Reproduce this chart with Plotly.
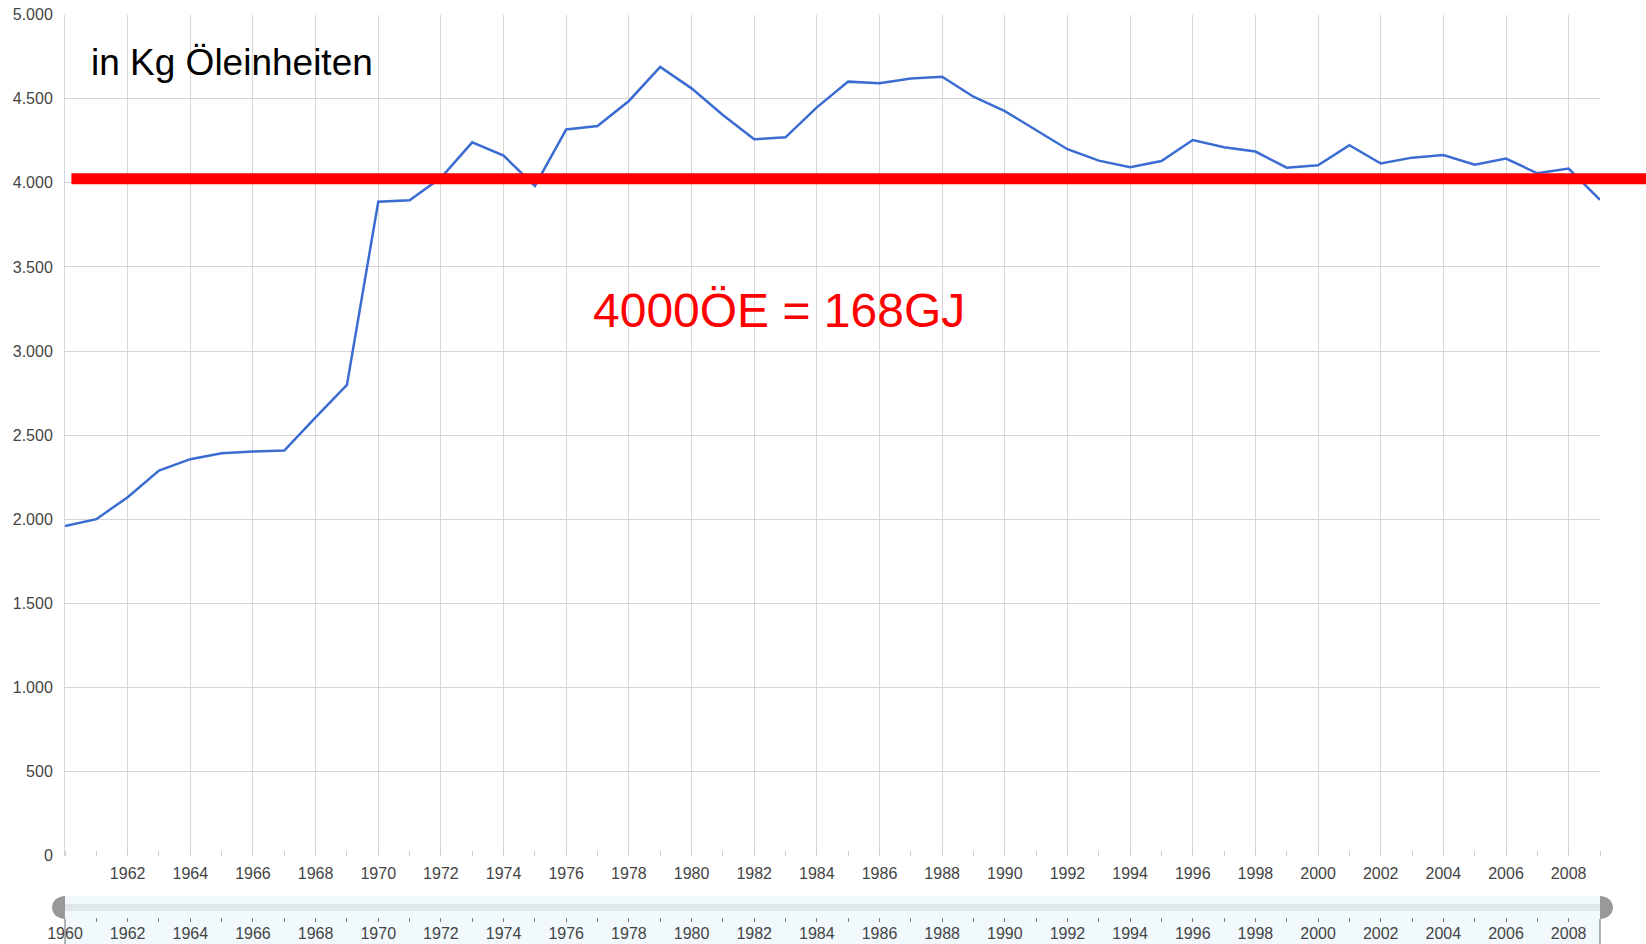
import plotly.graph_objects as go

# ---- data ----
years = list(range(1960, 2010))
energy_kg_oe = [
    1960, 2000, 2131, 2289, 2357, 2392, 2402, 2408, 2606, 2798,
    3888, 3896, 4030, 4241, 4162, 3982, 4318, 4338, 4487, 4689,
    4562, 4404, 4259, 4271, 4449, 4602, 4592, 4620, 4631, 4512,
    4427, 4315, 4200, 4132, 4093, 4130, 4255, 4212, 4186, 4090,
    4105, 4224, 4115, 4150, 4166, 4108, 4144, 4057, 4085, 3899,
]
ref_level = 4025
x_tick_years = list(range(1962, 2009, 2))
slider_tick_years = list(range(1960, 2009, 2))
y_ticks = list(range(0, 5001, 500))

title_text = "in Kg Öleinheiten"
ref_text = "4000ÖE = 168GJ"

# ---- geometry helpers (pixels -> paper) ----
W, H = 1646, 944
L, R = 65, 1600


def px(x):
    return (x - L) / (R - L)


def py(y):
    return (H - y) / H


FONT = "Liberation Sans, Arial, sans-serif"
GRID = "#d6d6d6"

fig = go.Figure()
fig.add_trace(go.Scatter(
    x=years, y=energy_kg_oe, mode="lines",
    line=dict(color="#3b6cd2", width=2.5),
    xaxis="x", yaxis="y", showlegend=False,
))
fig.add_trace(go.Scatter(
    x=[years[0], years[-1]], y=[0.5, 0.5], mode="markers",
    marker=dict(opacity=0), xaxis="x2", yaxis="y2",
    showlegend=False, hoverinfo="skip",
))

shapes = []
# range-filter band
shapes.append(dict(type="rect", xref="paper", yref="paper", x0=0, x1=1,
                   y0=py(944), y1=py(896), fillcolor="#f1f9fd",
                   line=dict(width=0), layer="below"))
shapes.append(dict(type="rect", xref="paper", yref="paper", x0=0, x1=1,
                   y0=py(911), y1=py(904), fillcolor="#dfe7eb",
                   line=dict(width=0), layer="below"))
for xe in (0, 1):
    shapes.append(dict(type="line", xref="paper", yref="paper", x0=xe, x1=xe,
                       y0=py(919), y1=py(944), line=dict(color="#666666", width=1)))


def handle(xc, direction):
    r, yt, yb = 13, 896, 919
    ym = (yt + yb) / 2
    ry = (yb - yt) / 2
    k = 0.5523
    xe = xc + direction * r
    pts = [
        (xc, yt),
        (xc + direction * k * r, yt), (xe, ym - k * ry), (xe, ym),
        (xe, ym + k * ry), (xc + direction * k * r, yb), (xc, yb),
    ]
    p = [(px(a), py(b)) for a, b in pts]
    path = "M {},{} C {},{} {},{} {},{} C {},{} {},{} {},{} Z".format(
        p[0][0], p[0][1], p[1][0], p[1][1], p[2][0], p[2][1], p[3][0], p[3][1],
        p[4][0], p[4][1], p[5][0], p[5][1], p[6][0], p[6][1])
    return dict(type="path", xref="paper", yref="paper", path=path,
                fillcolor="#999999", line=dict(width=0))


shapes.append(handle(L, -1))
shapes.append(handle(R, 1))

# red reference line
shapes.append(dict(type="line", xref="paper", yref="y", x0=px(71.4), x1=px(1660),
                   y0=ref_level, y1=ref_level, line=dict(color="#ff0000", width=11)))

annotations = [
    dict(text=title_text, xref="paper", yref="paper", x=px(88.5), y=py(62.4),
         xanchor="left", yanchor="middle", showarrow=False,
         font=dict(family=FONT, size=37, color="#000000")),
    dict(text=ref_text, xref="paper", yref="paper", x=px(591), y=py(310),
         xanchor="left", yanchor="middle", showarrow=False,
         font=dict(family=FONT, size=48, color="#ff0000")),
]

fig.update_layout(
    width=W, height=H,
    margin=dict(l=L, r=W - R, t=0, b=0, autoexpand=False),
    paper_bgcolor="white", plot_bgcolor="white",
    font=dict(family=FONT, size=16, color="#444444"),
    separators=",.",
    showlegend=False,
    shapes=shapes,
    annotations=annotations,
    xaxis=dict(
        domain=[0, 1], range=[1960, 2009], anchor="y", automargin=False,
        tickmode="array", tickvals=x_tick_years,
        ticktext=[str(v) for v in x_tick_years],
        showgrid=True, gridcolor=GRID, gridwidth=1,
        ticks="", showline=False, zeroline=False,
        ticklabelstandoff=6,
        minor=dict(tickmode="linear", tick0=1960, dtick=1, ticks="inside",
                   ticklen=5, tickcolor="#cccccc", showgrid=False),
    ),
    yaxis=dict(
        domain=[py(855.5), py(14.7)], range=[0, 5000], anchor="x", automargin=False,
        tickmode="array", tickvals=y_ticks,
        tickformat=",d", separatethousands=True,
        showgrid=True, gridcolor=GRID, gridwidth=1,
        showline=True, linecolor=GRID, linewidth=1,
        zeroline=False, ticks="", ticklabelstandoff=8,
    ),
    xaxis2=dict(
        domain=[0, 1], range=[1960, 2009], anchor="y2", automargin=False,
        tickmode="array", tickvals=slider_tick_years,
        ticktext=[str(v) for v in slider_tick_years],
        ticks="inside", ticklen=4, tickcolor="#777777",
        showgrid=False, showline=False, zeroline=False,
        ticklabelstandoff=0,
        minor=dict(tickmode="linear", tick0=1960, dtick=1, ticks="inside",
                   ticklen=4, tickcolor="#777777", showgrid=False),
    ),
    yaxis2=dict(domain=[py(922), py(896)], range=[0, 1], anchor="x2",
                visible=False, fixedrange=True, automargin=False),
)

fig.write_html("out.html", config={"displayModeBar": False},
               post_script="document.body.style.margin='0';document.body.style.overflow='hidden';")
